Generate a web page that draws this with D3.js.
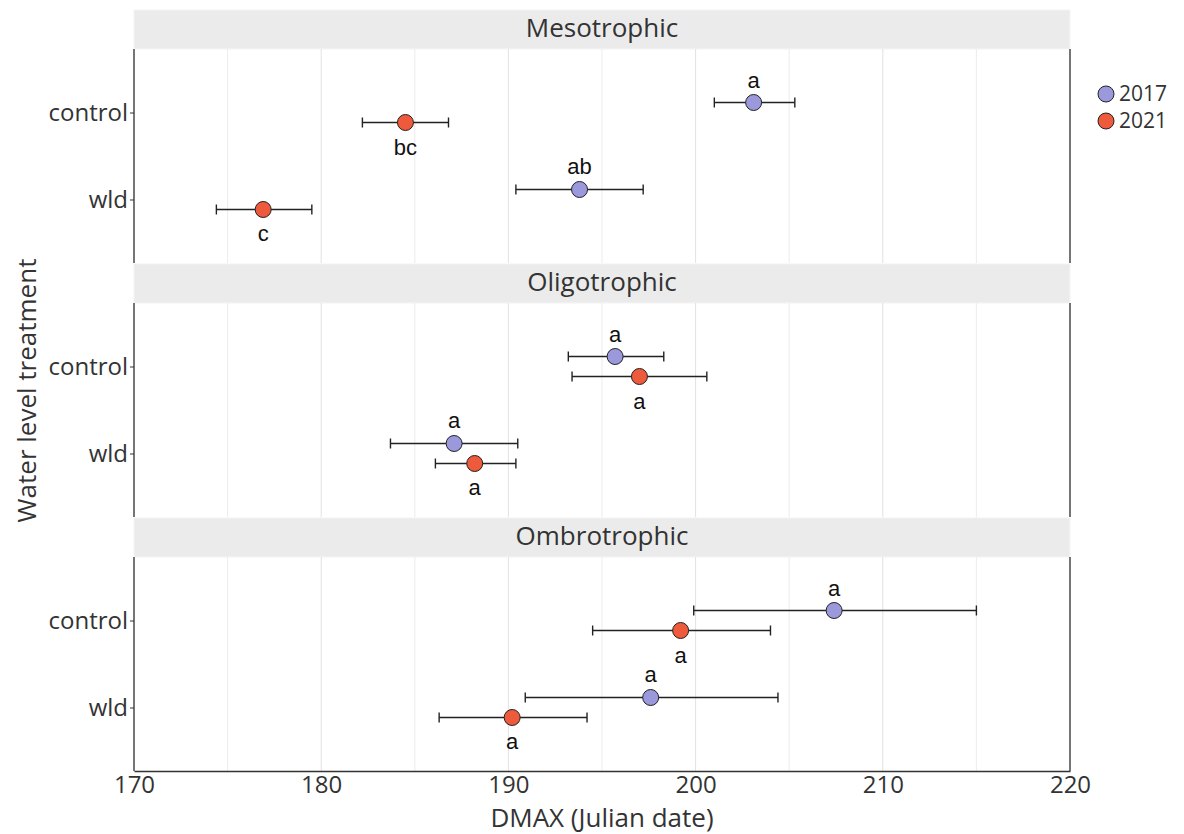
<!DOCTYPE html>
<html>
<head>
<meta charset="utf-8">
<script src="https://cdn.jsdelivr.net/npm/d3@7"></script>
<style>
  body { margin: 0; background: #fff; }
  text { font-family: "Open Sans", "Noto Sans", sans-serif; fill: #222; }
</style>
</head>
<body>
<div id="chart"></div>
<script>
// data
var panels = ["Mesotrophic", "Oligotrophic", "Ombrotrophic"];
var treatments = ["control", "wld"];
var years = ["2017", "2021"];
var xTicks = [170, 180, 190, 200, 210, 220];

// one row per point: panel, treatment, year, mean, lower, upper, letter
var panelCol   = ["Mesotrophic","Mesotrophic","Mesotrophic","Mesotrophic",
                  "Oligotrophic","Oligotrophic","Oligotrophic","Oligotrophic",
                  "Ombrotrophic","Ombrotrophic","Ombrotrophic","Ombrotrophic"];
var treatCol   = ["control","control","wld","wld","control","control","wld","wld","control","control","wld","wld"];
var yearCol    = ["2017","2021","2017","2021","2017","2021","2017","2021","2017","2021","2017","2021"];
var meanCol    = [203.1, 184.5, 193.8, 176.9, 195.7, 197.0, 187.1, 188.2, 207.4, 199.2, 197.6, 190.2];
var lowCol     = [201.0, 182.2, 190.4, 174.4, 193.2, 193.4, 183.7, 186.1, 199.9, 194.5, 190.9, 186.3];
var highCol    = [205.3, 186.8, 197.2, 179.5, 198.3, 200.6, 190.5, 190.4, 215.0, 204.0, 204.4, 194.2];
var letterCol  = ["a","bc","ab","c","a","a","a","a","a","a","a","a"];

var fillColor = { "2017": "#9b99dc", "2021": "#ee5a3c" };

var width = 1184, height = 834;
var left = 134, right = 1070;
var top0 = 10, stripH = 39, panelH = 214, gap = 1;

var svg = d3.select("#chart").append("svg")
    .attr("width", width)
    .attr("height", height);

var x = d3.scaleLinear().domain([170, 220]).range([left, right]);

var rows = meanCol.map(function(m, i) {
  return { panel: panelCol[i], treat: treatCol[i], year: yearCol[i],
           mean: m, lo: lowCol[i], hi: highCol[i], letter: letterCol[i] };
});

panels.forEach(function(p, pi) {
  var stripY = top0 + pi * (stripH + panelH + gap);
  var py = stripY + stripH;

  var y = d3.scalePoint().domain(treatments).range([py, py + panelH]).padding(0.73);
  var dodge = d3.scalePoint().domain(years).range([-10, 10]);

  // strip
  svg.append("rect")
     .attr("x", left).attr("y", stripY)
     .attr("width", right - left).attr("height", stripH)
     .attr("fill", "#ebebeb").attr("stroke", "#f4f4f4");
  svg.append("text")
     .attr("x", (left + right) / 2).attr("y", stripY + stripH / 2 + 1)
     .attr("text-anchor", "middle").attr("dominant-baseline", "middle")
     .style("font-size", "26px").style("fill", "#333")
     .text(p);

  // grid, minor then major
  var g = svg.append("g");
  d3.range(175, 220, 10).forEach(function(v) {
    g.append("line").attr("x1", x(v)).attr("x2", x(v))
     .attr("y1", py).attr("y2", py + panelH)
     .attr("stroke", "#ececec").attr("stroke-width", 1);
  });
  xTicks.forEach(function(v) {
    g.append("line").attr("x1", x(v)).attr("x2", x(v))
     .attr("y1", py).attr("y2", py + panelH)
     .attr("stroke", "#e2e2e2").attr("stroke-width", 1);
  });

  // panel sides
  svg.append("line").attr("x1", left).attr("x2", left)
     .attr("y1", py).attr("y2", py + panelH)
     .attr("stroke", "#333").attr("stroke-width", 1.3);
  svg.append("line").attr("x1", right).attr("x2", right)
     .attr("y1", py).attr("y2", py + panelH)
     .attr("stroke", "#333").attr("stroke-width", 1.3);

  // y axis
  var yAxis = d3.axisLeft(y).tickSize(4).tickPadding(2);
  var ya = svg.append("g").attr("transform", "translate(" + left + ",0)").call(yAxis);
  ya.select(".domain").remove();
  ya.selectAll("line").attr("stroke", "#333");
  ya.selectAll("text").style("font-size", "24px").style("fill", "#333")
    .attr("dy", "0.32em");

  var d = rows.filter(function(r) { return r.panel === p; });

  var bars = svg.append("g").selectAll("g").data(d).enter().append("g")
     .attr("transform", function(r) { return "translate(0," + (y(r.treat) + dodge(r.year)) + ")"; });

  bars.append("line")
     .attr("x1", function(r) { return x(r.lo); })
     .attr("x2", function(r) { return x(r.hi); })
     .attr("stroke", "#222").attr("stroke-width", 1.4);
  bars.append("line")
     .attr("x1", function(r) { return x(r.lo); }).attr("x2", function(r) { return x(r.lo); })
     .attr("y1", -5).attr("y2", 5)
     .attr("stroke", "#222").attr("stroke-width", 1.4);
  bars.append("line")
     .attr("x1", function(r) { return x(r.hi); }).attr("x2", function(r) { return x(r.hi); })
     .attr("y1", -5).attr("y2", 5)
     .attr("stroke", "#222").attr("stroke-width", 1.4);
  bars.append("circle")
     .attr("cx", function(r) { return x(r.mean); })
     .attr("r", 8)
     .attr("fill", function(r) { return fillColor[r.year]; })
     .attr("stroke", "#222").attr("stroke-width", 1);
  bars.append("text")
     .attr("x", function(r) { return x(r.mean); })
     .attr("y", function(r) { return r.year === "2017" ? -15 : 32; })
     .attr("text-anchor", "middle")
     .style("font-family", "'Liberation Sans', Arial, sans-serif")
     .style("font-size", "22px").style("fill", "#111")
     .text(function(r) { return r.letter; });
});

// bottom x axis
var bottom = top0 + 3 * (stripH + panelH) + 2 * gap;
var xAxis = d3.axisBottom(x).tickValues(xTicks).tickSize(0).tickPadding(5);
var xa = svg.append("g").attr("transform", "translate(0," + bottom + ")").call(xAxis);
xa.select(".domain").attr("stroke", "#333").attr("stroke-width", 1.5);
xa.selectAll("text").style("font-size", "24px").style("fill", "#333");

// axis titles
svg.append("text")
   .attr("x", (left + right) / 2).attr("y", 827)
   .attr("text-anchor", "middle")
   .style("font-size", "26px").style("fill", "#333")
   .text("DMAX (Julian date)");
svg.append("text")
   .attr("transform", "translate(36," + ((top0 + bottom) / 2) + ") rotate(-90)")
   .attr("text-anchor", "middle")
   .style("font-size", "26px").style("fill", "#333")
   .text("Water level treatment");

// legend
var leg = svg.append("g").attr("transform", "translate(1106,94)");
years.forEach(function(yr, i) {
  leg.append("circle").attr("cx", 0).attr("cy", i * 27).attr("r", 8)
     .attr("fill", fillColor[yr]).attr("stroke", "#222").attr("stroke-width", 1);
  leg.append("text").attr("x", 13).attr("y", i * 27).attr("dy", "0.35em")
     .style("font-size", "21px").style("fill", "#333")
     .text(yr);
});
</script>
</body>
</html>
